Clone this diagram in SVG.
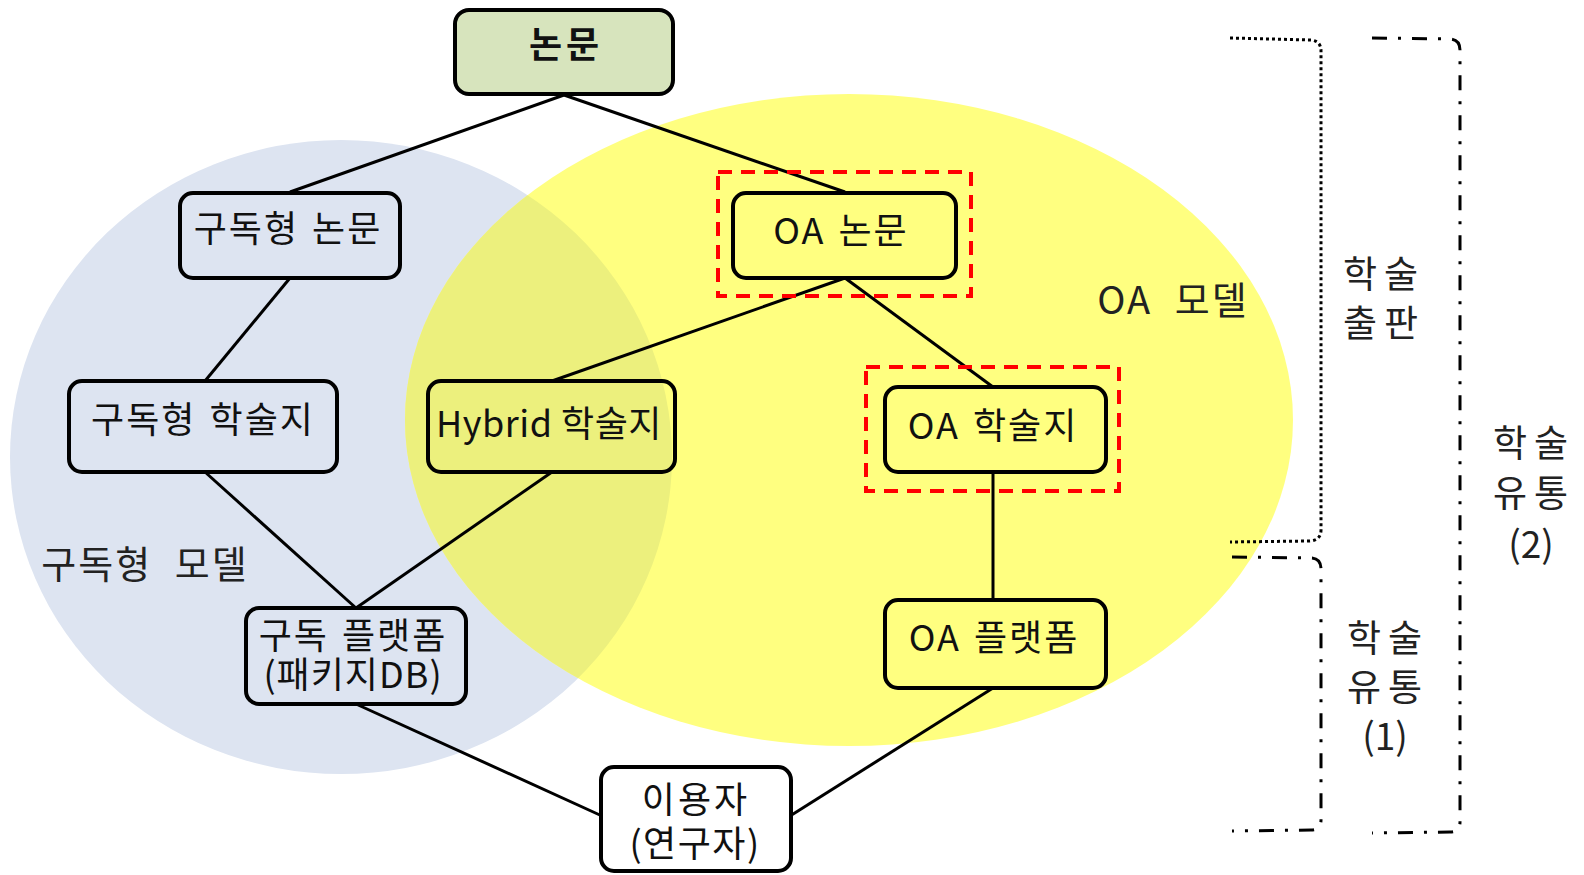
<svg xmlns="http://www.w3.org/2000/svg" width="1584" height="875" viewBox="0 0 1584 875">
<defs>
<style>
.node{fill:none;stroke:#000;stroke-width:4}
.t{font-family:"Noto Sans CJK KR","Liberation Sans",sans-serif;font-size:36px;fill:#111;text-anchor:middle;dominant-baseline:central;letter-spacing:2px;word-spacing:3px}
.lbl{font-family:"Noto Sans CJK KR","Liberation Sans",sans-serif;font-size:38px;fill:#222;text-anchor:middle;dominant-baseline:central;letter-spacing:2px;word-spacing:12px}
.side{font-family:"Noto Sans CJK KR","Liberation Sans",sans-serif;font-size:37px;fill:#222;text-anchor:middle;dominant-baseline:central}
.conn line{stroke:#000;stroke-width:3}
.red{fill:none;stroke:#ff0000;stroke-width:4;stroke-dasharray:14 9}
.dot{fill:none;stroke:#000;stroke-width:3;stroke-dasharray:3 3}
.dd{fill:none;stroke:#000;stroke-width:3;stroke-dasharray:15 11 3 11}
</style>
<clipPath id="blueClip"><ellipse cx="341" cy="457" rx="331" ry="317"/></clipPath>
</defs>
<rect width="1584" height="875" fill="#fff"/>
<g id="regions">
<ellipse cx="341" cy="457" rx="331" ry="317" fill="#dde4f1"/>
<ellipse cx="849" cy="420" rx="444" ry="326" fill="#ffff80"/>
<ellipse cx="849" cy="420" rx="444" ry="326" fill="#ecf07d" clip-path="url(#blueClip)"/>
<text class="lbl" x="1173" y="297">OA 모델</text>
<text class="lbl" x="145" y="561">구독형 모델</text>
</g>
<g id="connectors" class="conn">
<line x1="564" y1="95" x2="290" y2="192"/>
<line x1="564" y1="95" x2="845" y2="192"/>
<line x1="290" y1="278" x2="205" y2="381"/>
<line x1="845" y1="278" x2="552" y2="381"/>
<line x1="845" y1="278" x2="993" y2="387"/>
<line x1="205" y1="472" x2="356" y2="608"/>
<line x1="552" y1="472" x2="356" y2="608"/>
<line x1="993" y1="472" x2="993" y2="600"/>
<line x1="356" y1="704" x2="602" y2="816"/>
<line x1="993" y1="688" x2="790" y2="816"/>
</g>
<g id="highlight">
<rect class="red" x="718" y="172" width="253" height="124"/>
<rect class="red" x="866" y="367" width="253" height="124"/>
</g>
<g id="n-paper">
<rect x="455" y="10" width="218" height="84" rx="14" fill="#d7e4bd" stroke="#000" stroke-width="4"/>
<text class="t" x="566" y="42" font-weight="bold" style="letter-spacing:4px">논문</text>
</g>
<g id="n-sub-paper">
<rect class="node" x="180" y="193" width="220" height="85" rx="13"/>
<text class="t" x="288" y="226">구독형 논문</text>
</g>
<g id="n-oa-paper">
<rect class="node" x="733" y="193" width="223" height="85" rx="13"/>
<text class="t" x="841" y="228">OA 논문</text>
</g>
<g id="n-sub-journal">
<rect class="node" x="69" y="381" width="268" height="91" rx="13"/>
<text class="t" x="203" y="417">구독형 학술지</text>
</g>
<g id="n-hybrid">
<rect class="node" x="428" y="381" width="247" height="91" rx="13"/>
<text class="t" x="549" y="421" style="letter-spacing:0.5px;word-spacing:0">Hybrid 학술지</text>
</g>
<g id="n-oa-journal">
<rect class="node" x="885" y="387" width="221" height="85" rx="13"/>
<text class="t" x="993" y="423">OA 학술지</text>
</g>
<g id="n-sub-platform">
<rect class="node" x="246" y="608" width="220" height="96" rx="13"/>
<text class="t" x="353" y="633">구독 플랫폼<tspan x="353" dy="39" style="letter-spacing:1px">(패키지DB)</tspan></text>
</g>
<g id="n-oa-platform">
<rect class="node" x="885" y="600" width="221" height="88" rx="13"/>
<text class="t" x="994" y="635">OA 플랫폼</text>
</g>
<g id="n-user">
<rect class="node" x="601" y="767" width="190" height="104" rx="13"/>
<text class="t" x="696" y="797" style="letter-spacing:3px">이용자<tspan x="695" dy="44" style="letter-spacing:1.5px">(연구자)</tspan></text>
</g>
<g id="brackets">
<path class="dot" d="M1230,38 L1311,40 Q1321,41 1321,51 L1321,530 Q1321,540 1310,541 L1230,542"/>
<path class="dd" d="M1232,557 L1312,558 Q1321,559 1321,569 L1321,820 Q1321,830 1311,830 L1232,831"/>
<path class="dd" d="M1372,38 L1451,39 Q1460,40 1460,50 L1460,822 Q1460,832 1450,832 L1372,833"/>
<text class="side" x="1384" y="272" style="letter-spacing:7px">학술<tspan x="1384" dy="49">출판</tspan></text>
<text class="side" x="1388" y="636" style="letter-spacing:7px">학술<tspan x="1388" dy="49">유통</tspan><tspan x="1385" dy="49" style="letter-spacing:0">(1)</tspan></text>
<text class="side" x="1534" y="441" style="letter-spacing:7px">학술<tspan x="1534" dy="50">유통</tspan><tspan x="1531" dy="51" style="letter-spacing:0">(2)</tspan></text>
</g>
</svg>
